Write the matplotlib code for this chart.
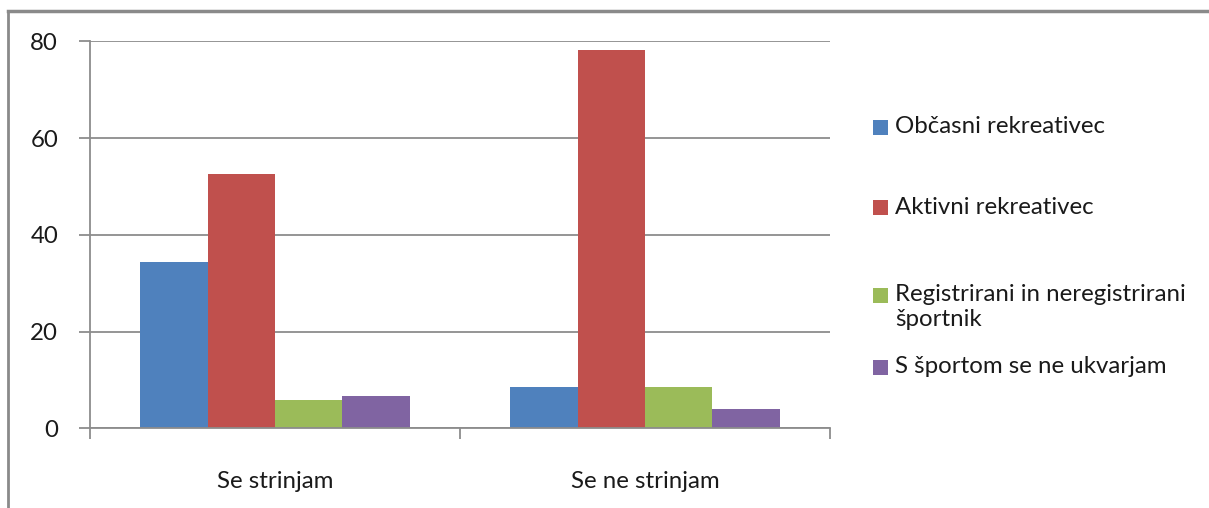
import matplotlib
matplotlib.use('Agg')
import matplotlib.pyplot as plt
from matplotlib.patches import Rectangle
from matplotlib.lines import Line2D
import numpy as np

plt.rcParams['font.family'] = ['Lato', 'DejaVu Sans']

# Survey answers and respondent groups (percent)
categories = ['Se strinjam', 'Se ne strinjam']
series_names = ['Občasni rekreativec', 'Aktivni rekreativec',
                'Registrirani in neregistrirani\nšportnik', 'S športom se ne ukvarjam']
obcasni = [34.4, 8.5]
aktivni = [52.5, 78.2]
registrirani = [5.9, 8.5]
ne_ukvarjam = [6.6, 4.0]
colors = ['#4F81BD', '#C0504D', '#9BBB59', '#8064A2']

series = [obcasni, aktivni, registrirani, ne_ukvarjam]
text_color = '#1a1a1a'
grid_color = '#8c8c8c'
fs = 17.3

fig = plt.figure(figsize=(12.09, 5.08), dpi=100)
ax = fig.add_axes([90 / 1209, 79.7 / 508, 740 / 1209, 387 / 508])

x = np.arange(len(categories))
width = 0.1824
for i, (vals, col) in enumerate(zip(series, colors)):
    ax.bar(x + (i - 1.5) * width, vals, width, color=col, edgecolor='none',
           zorder=3)

ax.set_xlim(-0.5, len(categories) - 0.5)
ax.set_ylim(0, 80)
ax.set_yticks([0, 20, 40, 60, 80])
ax.yaxis.grid(True, color=grid_color, linewidth=1.3, zorder=0)

# category boundaries as major ticks, labels on minor ticks
ax.set_xticks(np.arange(len(categories) + 1) - 0.5)
ax.set_xticklabels([])
ax.set_xticks(x, minor=True)
ax.set_xticklabels(categories, minor=True)
ax.tick_params(axis='x', which='major', direction='out', length=8,
               color=grid_color, width=1.3)
ax.tick_params(axis='x', which='minor', length=0, pad=31, labelsize=fs,
               labelcolor=text_color)
ax.tick_params(axis='y', direction='out', length=8, color=grid_color,
               width=1.3, pad=15, labelsize=fs, labelcolor=text_color)

for side in ['top', 'right']:
    ax.spines[side].set_visible(False)
for side in ['left', 'bottom']:
    ax.spines[side].set_color(grid_color)
    ax.spines[side].set_linewidth(1.3)
ax.spines['bottom'].set_zorder(4)

# legend drawn as squares with text on the right of the plot
legend_y = [127, 208, 295, 367]
for name, col, yc in zip(series_names, colors, legend_y):
    fy = 1 - yc / 508
    fig.patches.append(Rectangle((873 / 1209, fy - 7.5 / 508), 15 / 1209, 15 / 508,
                                 transform=fig.transFigure, facecolor=col,
                                 edgecolor='none'))
    fig.text(895 / 1209, fy + 11 / 508, name, fontsize=fs, color=text_color,
             ha='left', va='top', linespacing=1.25)

# chart area border
fig.lines.append(Line2D([7.5 / 1209, 7.5 / 1209], [0, 1 - 11 / 508],
                        transform=fig.transFigure, color='#8a8a8a', linewidth=2))
fig.lines.append(Line2D([7.5 / 1209, 1], [1 - 11 / 508, 1 - 11 / 508],
                        transform=fig.transFigure, color='#8a8a8a', linewidth=2.5))

fig.savefig('out.png', dpi=100, facecolor='white')
